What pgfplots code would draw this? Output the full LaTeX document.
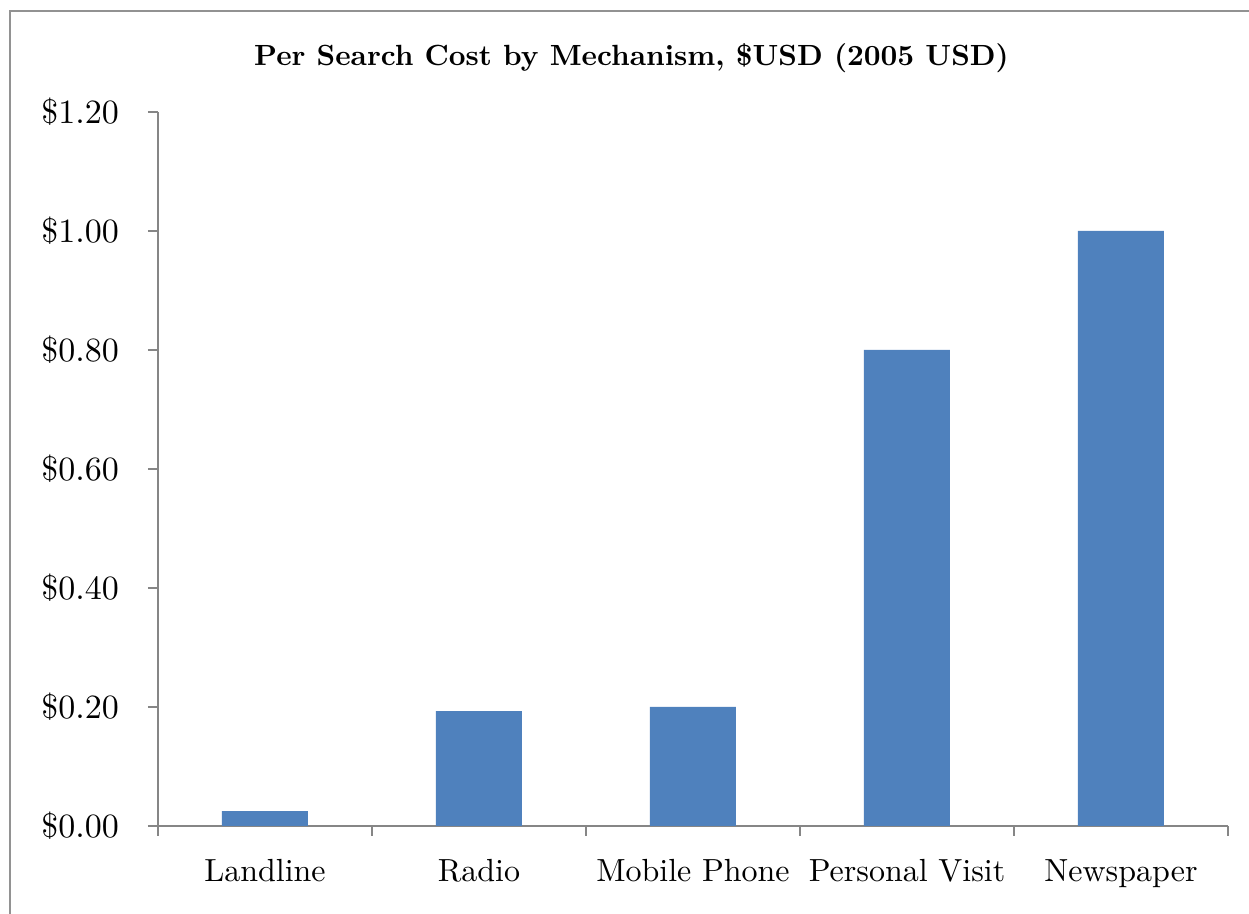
\documentclass[border=0pt]{standalone}
\usepackage{fontspec}
\setmainfont{lmroman10-regular.otf}[BoldFont=lmroman10-bold.otf]
\usepackage{pgfplots}
\pgfplotsset{compat=1.18}
\definecolor{barblue}{HTML}{4F81BD}
\definecolor{axgray}{HTML}{868686}
\begin{document}
\begin{tikzpicture}
\useasboundingbox (-79pt,-44pt) rectangle (545.5pt,413pt);
\draw[color=axgray!90, line width=1pt] (-74pt,-44pt) -- (-74pt,407.5pt) -- (545.5pt,407.5pt);
\begin{axis}[
  at={(0pt,0pt)}, anchor=south west,
  scale only axis, width=535pt, height=357pt,
  xmin=-0.5, xmax=4.5, ymin=0, ymax=1.2,
  axis x line*=bottom, axis y line*=left,
  axis line style={-, color=axgray, line width=1pt},
  tick align=outside, major tick length=5pt,
  tick style={color=axgray, line width=1pt},
  /pgf/number format/assume math mode=true,
  xtick={-0.5,0.5,1.5,2.5,3.5,4.5},
  xticklabels={},
  extra x ticks={0,1,2,3,4},
  extra x tick labels={Landline,Radio,Mobile Phone,Personal Visit,Newspaper},
  extra x tick style={major tick length=0pt, tick style={draw=none}},
  x tick label style={font=\fontsize{16}{19}\selectfont, anchor=base, yshift=-28pt},
  ytick={0,0.2,0.4,0.6,0.8,1.0,1.2},
  yticklabels={\$0.00,\$0.20,\$0.40,\$0.60,\$0.80,\$1.00,\$1.20},
  y tick label style={font=\fontsize{17}{20}\selectfont, anchor=east, xshift=-11pt},
  ybar, bar width=43pt,
]
\addplot[fill=barblue, draw=none] coordinates {(0,0.025) (1,0.193) (2,0.200) (3,0.800) (4,1.000)};
\end{axis}
\node[anchor=base, inner sep=0pt] at (236.75pt,380pt) {\fontsize{14.6}{18}\selectfont\bfseries Per Search Cost by Mechanism, \$USD (2005 USD)};
\end{tikzpicture}
\end{document}
